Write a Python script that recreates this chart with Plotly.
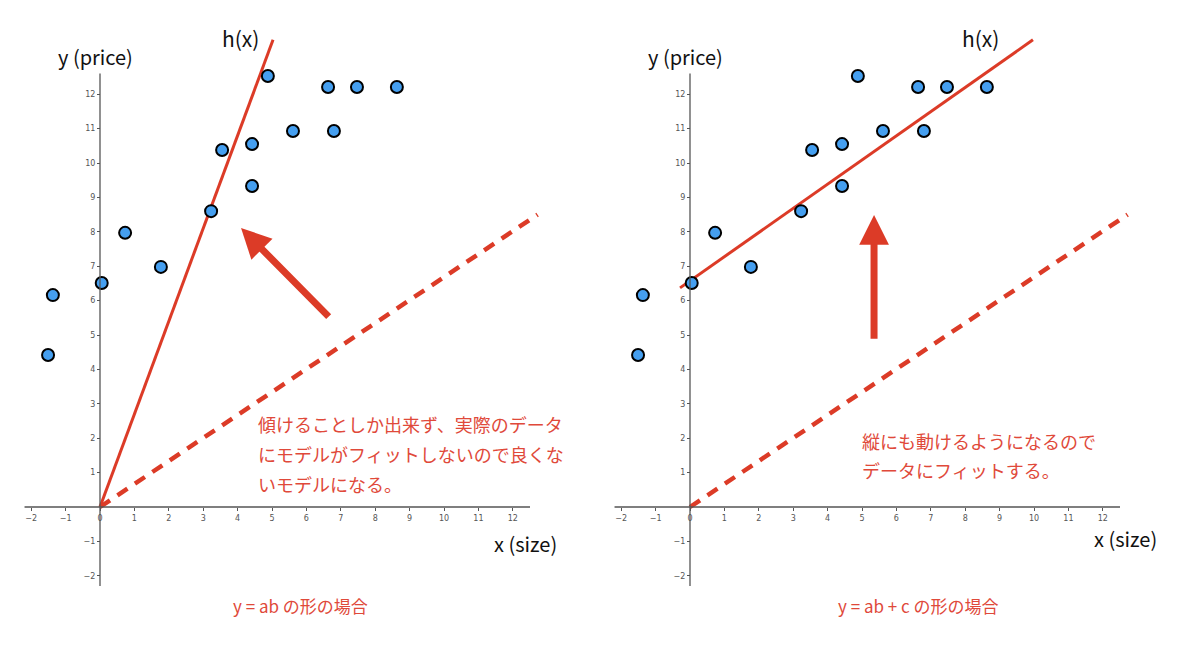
import plotly.graph_objects as go

# ---- data ----
x_size = [-1.51, -1.37, 0.05, 0.73, 1.77, 3.23, 3.55, 4.42, 4.42, 4.88, 5.61, 6.63, 6.80, 7.47, 8.63]
y_price = [4.42, 6.16, 6.51, 7.97, 6.98, 8.60, 10.38, 10.55, 9.33, 12.53, 10.93, 12.21, 10.93, 12.21, 12.21]

# h(x) = a*x (left) and h(x) = a*x + c (right)
h_left_x = [0, 5.03]
h_left_y = [0, 13.58]
h_right_x = [-0.29, 9.97]
h_right_y = [6.37, 13.58]
# dashed initial line (same on both)
init_x = [0, 12.72]
init_y = [0, 8.50]

# arrows (tail -> tip)
arrow_left = dict(tail=(6.69, 5.49), tip=(4.10, 8.11))
arrow_right = dict(tail=(5.35, 4.85), tip=(5.35, 8.49))

x_ticks = [-2, -1, 0, 1, 2, 3, 4, 5, 6, 7, 8, 9, 10, 11, 12]
y_ticks = [-2, -1, 1, 2, 3, 4, 5, 6, 7, 8, 9, 10, 11, 12]

texts_left = ["傾けることしか出来ず、実際のデータ", "にモデルがフィットしないので良くな", "いモデルになる。"]
texts_right = ["縦にも動けるようになるので", "データにフィットする。"]
caption_left = "y = ab の形の場合"
caption_right = "y = ab + c の形の場合"

# ---- layout geometry ----
W, H = 1200, 645
PAGE_OFF = 8  # default body margin of the html page
PPU = 34.4  # pixels per unit
XR = [-2.2, 12.85]
YR = [-2.3, 13.75]
ORIGIN_Y_PX = 507
ORIGINS_X_PX = [100, 690]

RED = "#dc3b27"
TXT_RED = "#e0493a"
BLUE = "#459ff0"
AXC = "#555555"
FONT = "Noto Sans CJK JP, Noto Sans, sans-serif"

fig = go.Figure()

def px2paper_x(px):
    return (px - PAGE_OFF) / W

def px2paper_y(py):
    return (H - (py - PAGE_OFF)) / H

ydom = [px2paper_y(ORIGIN_Y_PX - YR[0] * PPU), px2paper_y(ORIGIN_Y_PX - YR[1] * PPU)]

for i, ox in enumerate(ORIGINS_X_PX):
    n = "" if i == 0 else str(i + 1)
    xa = "xaxis" + n
    ya = "yaxis" + n
    xdom = [px2paper_x(ox + XR[0] * PPU), px2paper_x(ox + XR[1] * PPU)]
    fig.update_layout(**{
        xa: dict(domain=xdom, range=XR, anchor="free", position=px2paper_y(ORIGIN_Y_PX),
                 showgrid=False, zeroline=False, showline=False,
                 tickvals=x_ticks, ticks="outside", ticklen=3, tickcolor=AXC, tickwidth=1,
                 tickfont=dict(size=8, color=AXC, family="DejaVu Sans"),
                 fixedrange=True),
        ya: dict(domain=ydom, range=YR, anchor="free", position=px2paper_x(ox),
                 showgrid=False, zeroline=False, showline=False,
                 tickvals=y_ticks, ticks="outside", ticklen=3, tickcolor=AXC, tickwidth=1,
                 tickfont=dict(size=8, color=AXC, family="DejaVu Sans"),
                 fixedrange=True),
    })
    xref = "x" + n
    yref = "y" + n
    # axis lines
    fig.add_shape(type="line", xref=xref, yref=yref, x0=XR[0], x1=12.5, y0=0, y1=0,
                  line=dict(color=AXC, width=1.3))
    fig.add_shape(type="line", xref=xref, yref=yref, x0=0, x1=0, y0=YR[0], y1=12.6,
                  line=dict(color=AXC, width=1.3))

    # dashed line
    fig.add_trace(go.Scatter(x=init_x, y=init_y, mode="lines", xaxis=xref, yaxis=yref,
                             line=dict(color=RED, width=4.5, dash="12px,9px"), showlegend=False))
    # h(x) line
    hx, hy = (h_left_x, h_left_y) if i == 0 else (h_right_x, h_right_y)
    fig.add_trace(go.Scatter(x=hx, y=hy, mode="lines", xaxis=xref, yaxis=yref,
                             line=dict(color=RED, width=3), showlegend=False))
    # data points
    fig.add_trace(go.Scatter(x=x_size, y=y_price, mode="markers", xaxis=xref, yaxis=yref,
                             marker=dict(size=12, color=BLUE, line=dict(color="black", width=2)),
                             cliponaxis=False, showlegend=False))
    # arrow
    arr = arrow_left if i == 0 else arrow_right
    fig.add_annotation(x=arr["tip"][0], y=arr["tip"][1], ax=arr["tail"][0], ay=arr["tail"][1],
                       xref=xref, yref=yref, axref=xref, ayref=yref, text="",
                       showarrow=True, arrowhead=2, arrowwidth=7, arrowsize=0.85,
                       arrowcolor=RED, standoff=0)

# labels
def label(text, cx, cy, size, color="#111", xanchor="center"):
    fig.add_annotation(x=px2paper_x(cx), y=px2paper_y(cy), xref="paper", yref="paper",
                       text=text, showarrow=False, xanchor=xanchor, yanchor="middle",
                       font=dict(size=size, color=color, family=FONT))

label("h(x)", 241, 38, 21)
label("y (price)", 95, 57, 20)
label("x (size)", 525, 543, 20)
label("h(x)", 980, 38, 21)
label("y (price)", 686, 57, 20)
label("x (size)", 1125, 538, 20)

for k, t in enumerate(texts_left):
    label(t, 256, 424 + k * 30, 18, TXT_RED, xanchor="left")
for k, t in enumerate(texts_right):
    label(t, 860, 441 + k * 29, 18, TXT_RED, xanchor="left")

label(caption_left, 300, 605, 17, TXT_RED)
label(caption_right, 918, 605, 17, TXT_RED)

fig.update_layout(width=W, height=H, margin=dict(l=0, r=0, t=0, b=0),
                  paper_bgcolor="white", plot_bgcolor="white", showlegend=False)

fig.write_html("out.html")
